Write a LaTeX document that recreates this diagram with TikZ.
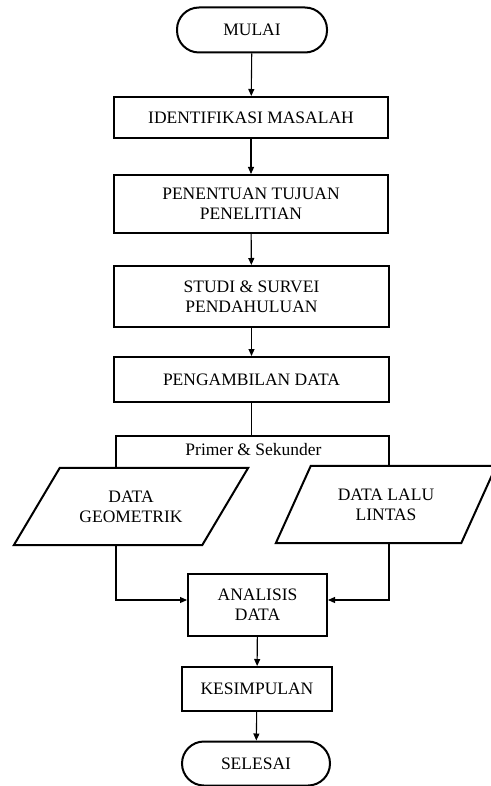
\documentclass[tikz,border=0pt]{standalone}
\usepackage{fontspec}
\setmainfont{Liberation Serif}
\usetikzlibrary{arrows.meta}

\begin{document}
\begin{tikzpicture}[x=1pt,y=-1pt,
    font=\fontsize{17.5}{20}\selectfont,
    >={Triangle[length=7pt,width=6pt]},
    box/.style={draw,line width=2pt,align=center},
    term/.style={draw,line width=2pt,rounded corners=22pt,minimum height=45pt},
    input/.style={align=center,minimum height=77pt},
    line/.style={line width=1.1pt}]
  \useasboundingbox (0,0) rectangle (490,786);
  \node[term,minimum width=150pt] (mulai) at (252,30) {MULAI};
  \node[box,minimum width=274pt,minimum height=41pt] (ident) at (251,117.5) {IDENTIFIKASI MASALAH};
  \node[box,minimum width=274pt,minimum height=58pt] (tujuan) at (251,204) {PENENTUAN TUJUAN\\PENELITIAN};
  \node[box,minimum width=275pt,minimum height=61pt] (studi) at (251.5,296.5) {STUDI \& SURVEI\\PENDAHULUAN};
  \node[box,minimum width=275pt,minimum height=45pt] (ambil) at (251.5,379.5) {PENGAMBILAN DATA};
  \coordinate (cabang) at (251.5,436);
  \node (jenis) at (253.5,450) {Primer \& Sekunder};
  \node[input,minimum width=234pt] (geo) at (131,506.5) {DATA\\GEOMETRIK};
  \node[input,minimum width=220pt] (lalu) at (386,504.5) {DATA LALU\\LINTAS};
  \draw[line width=2pt] ([xshift=46pt]geo.north west) -- (geo.north east)
    -- ([xshift=-46pt]geo.south east) -- (geo.south west) -- cycle;
  \draw[line width=2pt] ([xshift=35pt]lalu.north west) -- (lalu.north east)
    -- ([xshift=-35pt]lalu.south east) -- (lalu.south west) -- cycle;
  \node[box,minimum width=139pt,minimum height=62pt] (analisis) at (257.5,605) {ANALISIS\\DATA};
  \node[box,minimum width=150pt,minimum height=44pt] (simpul) at (257,689) {KESIMPULAN};
  \node[term,minimum width=148pt,minimum height=44pt] (selesai) at (256,763.5) {SELESAI};

  \draw[line,->] (mulai) -- (ident);
  \draw[line,->] (ident) -- (tujuan);
  \draw[line,->] (tujuan) -- (studi);
  \draw[line,->] (studi) -- (ambil);
  \draw[line] (ambil) -- (cabang);
  \draw[line] (cabang) -| ([xshift=-15pt]geo.north);
  \draw[line] (cabang) -| ([xshift=3pt]lalu.north);
  \draw[line,->] ([xshift=-15pt]geo.south) |- ([yshift=5pt]analisis.west);
  \draw[line,->] ([xshift=3pt]lalu.south) |- ([yshift=5pt]analisis.east);
  \draw[line,->] (analisis) -- (simpul);
  \draw[line,->] (simpul) -- (selesai);
\end{tikzpicture}
\end{document}
